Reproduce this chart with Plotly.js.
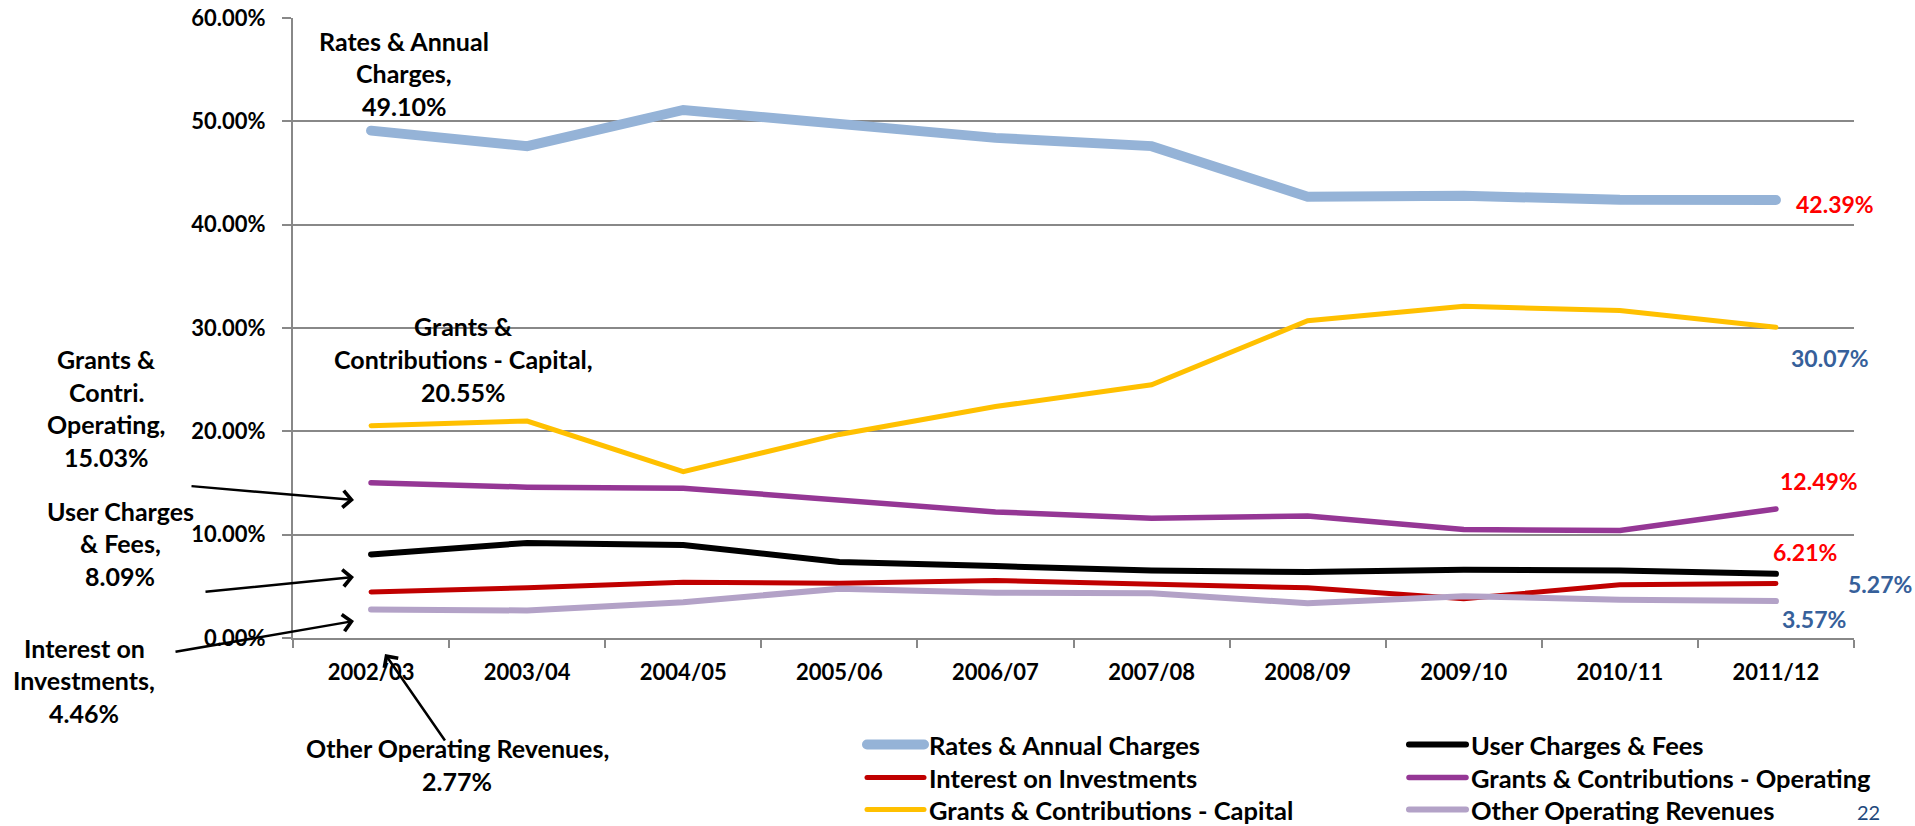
<!DOCTYPE html>
<html><head><meta charset="utf-8">
<script src="https://cdn.plot.ly/plotly-3.0.1.min.js"></script>
<style>html,body{margin:0;padding:0;background:#fff;} .scatterlayer .js-line{stroke-linecap:round;} .legendlines path{stroke-linecap:round;}</style>
</head><body><div id="chart" style="width:1915px;height:826px;"></div>
<script>
const years = ['2002/03','2003/04','2004/05','2005/06','2006/07','2007/08','2008/09','2009/10','2010/11','2011/12'];
const rates = [49.10, 47.6, 51.1, 49.7, 48.4, 47.6, 42.7, 42.8, 42.4, 42.39];
const userCharges = [8.09, 9.2, 9.0, 7.35, 6.96, 6.54, 6.38, 6.6, 6.54, 6.21];
const interest = [4.46, 4.86, 5.4, 5.3, 5.57, 5.25, 4.86, 3.8, 5.15, 5.27];
const grantsOperating = [15.03, 14.6, 14.5, 13.3, 12.2, 11.6, 11.8, 10.5, 10.4, 12.49];
const grantsCapital = [20.55, 21.0, 16.1, 19.7, 22.4, 24.5, 30.7, 32.1, 31.7, 30.07];
const otherRevenue = [2.77, 2.66, 3.47, 4.77, 4.38, 4.34, 3.37, 4.05, 3.7, 3.57];
const yTicks = [0, 10, 20, 30, 40, 50, 60];
const yTickText = yTicks.map(v => v.toFixed(2) + '%');

const seriesNames = ['Rates & Annual Charges','User Charges & Fees','Interest on Investments',
  'Grants & Contributions - Operating','Grants & Contributions - Capital','Other Operating Revenues'];
const seriesData = [rates, userCharges, interest, grantsOperating, grantsCapital, otherRevenue];
const seriesColors = ['#95B3D7','#000000','#C00000','#953795','#FFC000','#B3A2C7'];
const seriesWidths = [10, 6, 5, 5.5, 5, 6];

// layout geometry (pixels)
const L=293, R=1854, T=18, B=638;
const W=1915, H=826;
const px = x => (x-L)/(R-L);
const py = y => (B-y)/(B-T);

// legend slots: [column x, row y] in pixels, one per series (two columns, three rows)
const legendSlots = [[862,745],[1404,745],[862,778],[1404,778],[862,810],[1404,810]];
const legendKeys = seriesNames.map((_,i)=> i===0 ? 'legend' : 'legend'+(i+1));

const traces = seriesNames.map((n,i)=>({
  type:'scatter', mode:'lines', name:n, x:years, y:seriesData[i], legend:legendKeys[i],
  line:{color:seriesColors[i], width:seriesWidths[i]}, hoverinfo:'skip'
}));

const FONT = 'Lato, "Open Sans", sans-serif';
const annotations = [];
function block(lines, cx, ys, color, size, weight){
  lines.forEach((t,i)=>annotations.push({
    xref:'paper', yref:'paper', x:px(cx), y:py(ys[i]), text:t, showarrow:false,
    xanchor:'center', yanchor:'middle',
    font:{family:FONT, size:size||25, color:color||'#000', weight:weight||700}
  }));
}
block(['Rates & Annual','Charges,','49.10%'], 404, [41,73,106]);
block(['Grants &','Contributions - Capital,','20.55%'], 463, [326,359,392]);
block(['Grants &','Contri.','Operating,','15.03%'], 106, [359,392,424,457]);
block(['User Charges','& Fees,','8.09%'], 120, [511,543,576]);
block(['Interest on','Investments,','4.46%'], 84, [648,680,713]);
block(['Other Operating Revenues,','2.77%'], 457, [748,781]);

const RED='#FF0000', BLUE='#36609A';
block(['42.39%'], 1835, [204], RED, 23);
block(['30.07%'], 1830, [358], BLUE, 23);
block(['12.49%'], 1819, [481], RED, 23);
block(['6.21%'], 1805, [552], RED, 23);
block(['5.27%'], 1880, [584], BLUE, 23);
block(['3.57%'], 1814, [619], BLUE, 23);
block(['22'], 1868, [812], '#1F497D', 20, 400);

function arrow(hx, hy, tx, ty){
  annotations.push({xref:'paper', yref:'paper', x:px(hx), y:py(hy), ax:tx-hx, ay:ty-hy,
    text:'', showarrow:true, arrowhead:4, arrowsize:1.3, arrowwidth:2.5, arrowcolor:'#000'});
}
arrow(354, 500, 190, 486);
arrow(354, 577, 204, 592);
arrow(354, 621, 174, 652);
arrow(385, 654, 446, 742);

const legendFont = {family:FONT, size:25.5, color:'#000', weight:700};
const layout = {
  width:W, height:H,
  margin:{l:L, r:W-R, t:T, b:H-B, pad:0, autoexpand:false},
  paper_bgcolor:'#fff', plot_bgcolor:'#fff',
  font:{family:FONT, size:21, color:'#000', weight:700},
  showlegend:true,
  xaxis:{type:'category', range:[-0.5,9.5], showgrid:false, showline:true, linecolor:'#888', linewidth:2,
    ticks:'outside', tickson:'boundaries', ticklen:8, tickcolor:'#888', tickwidth:2,
    ticklabelstandoff:14, tickfont:{family:FONT, size:22, color:'#000', weight:700}, fixedrange:true},
  yaxis:{range:[0,60], tickvals:yTicks, ticktext:yTickText, tickmode:'array',
    showgrid:true, gridcolor:'#888', gridwidth:2, showline:true, linecolor:'#888', linewidth:2,
    zeroline:false, ticks:'outside', ticklen:9, tickcolor:'#888', tickwidth:2, ticklabelstandoff:12,
    tickfont:{family:FONT, size:22, color:'#000', weight:700}, fixedrange:true},
  annotations:annotations
};
legendKeys.forEach((k,i)=>{
  layout[k] = {orientation:'v', x:px(legendSlots[i][0]), y:py(legendSlots[i][1]),
    xanchor:'left', yanchor:'middle', itemwidth:57, font:legendFont, bgcolor:'rgba(0,0,0,0)'};
});
Plotly.newPlot('chart', traces, layout, {displayModeBar:false, staticPlot:true});
</script></body></html>
